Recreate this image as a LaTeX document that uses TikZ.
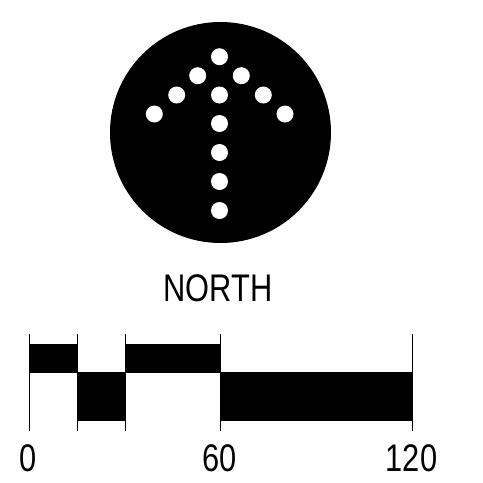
\documentclass[tikz,border=0pt]{standalone}
\usepackage{fontspec}
\setmainfont{Liberation Sans}
\newfontfamily\narrowsans[FakeStretch=0.8]{Liberation Sans}
\usetikzlibrary{positioning}
\tikzset{
    dialnode/.style={
        circle, fill=black, minimum size=221pt, inner sep=0pt
    },
    dotnode/.style={
        circle, fill=white, minimum width=17pt, minimum height=17pt, inner sep=0pt
    },
    barseg/.style={
        draw=black, fill=black, line width=0.6pt
    },
    tickline/.style={
        draw=black, line width=0.8pt
    },
    labeltext/.style={
        font=\narrowsans\fontsize{38.5}{40}\selectfont, inner sep=0pt, anchor=base
    }
}

\begin{document}
\begin{tikzpicture}[x=1pt, y=-1pt]
    \useasboundingbox (0,0) rectangle (483,483);
    % compass dial
    \node[dialnode] (dial) at (220.5,132.5) {};
    \foreach \name/\px/\py in {tip/219.5/56.7, ul/197.7/75.7, ur/241.3/75.7,
        ll/176.7/95, mid/219.5/95, lr/263.3/95, fl/154.3/114, fr/285/114,
        s1/219.5/123.5, s2/219.5/152.5, s3/219.5/181.5, s4/219.5/210.5}
        \node[dotnode] (dot-\name) at (\px,\py) {};
    \node[labeltext] (north) at (218,301.5) {NORTH};
    % scale bar
    \coordinate (t0) at (29.3,372.5);
    \coordinate (t15) at (77.3,372.5);
    \coordinate (t30) at (125,372.5);
    \coordinate (t60) at (220,372.5);
    \coordinate (t120) at (412.7,372.5);
    \fill[barseg] ([yshift=28.5pt]t0) rectangle (t15);
    \fill[barseg] (t15) rectangle ([yshift=-48pt]t30);
    \fill[barseg] ([yshift=28.5pt]t30) rectangle (t60);
    \fill[barseg] (t60) rectangle ([yshift=-48pt]t120);
    \foreach \t in {t0,t15,t30,t60,t120}
        \draw[tickline] ([yshift=38.5pt]\t) -- ([yshift=-58pt]\t);
    \node[labeltext] (lab0) at (28,471.5) {0};
    \node[labeltext] (lab60) at (220,471.5) {60};
    \node[labeltext] (lab120) at (411.5,471.5) {120};
\end{tikzpicture}
\end{document}
